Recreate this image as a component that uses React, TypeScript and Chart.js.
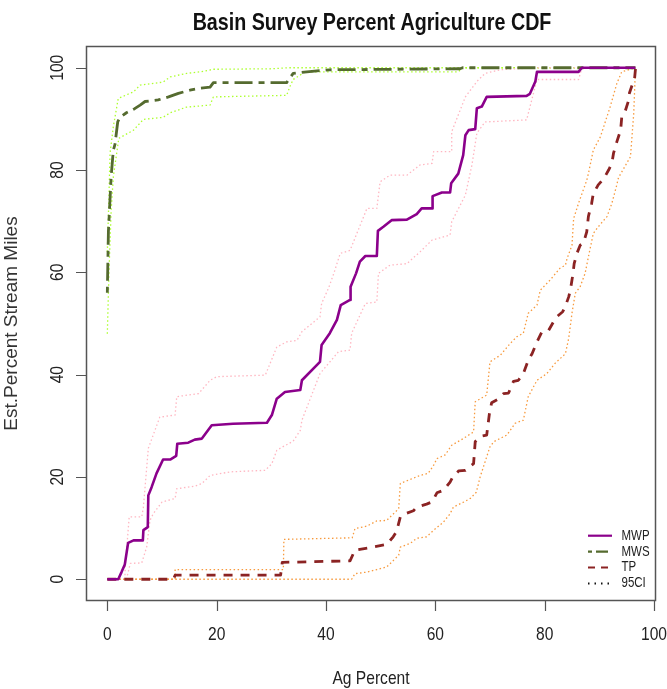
import React, { useEffect, useRef } from "react";
import { Chart, registerables } from "chart.js";

Chart.register(...registerables);

type P = [number, number];

const TITLE = "Basin Survey Percent Agriculture CDF";
const X_LABEL = "Ag Percent";
const Y_LABEL = "Est.Percent Stream Miles";
const X_TICKS = [0, 20, 40, 60, 80, 100];
const Y_TICKS = [0, 20, 40, 60, 80, 100];
const LEGEND_LABELS = ["MWP", "MWS", "TP", "95CI"];

const MWP: P[] = [[0,0],[2,0],[2.6,1.4],[3.2,2.9],[3.8,7.1],[4.8,7.6],[6.5,7.6],[6.6,9.6],[7.4,10.2],[7.5,16.4],[8.1,18],[9,20.7],[10.2,23.4],[11.5,23.4],[12.6,24.1],[12.8,26.5],[14.8,26.7],[16,27.3],[17.3,27.5],[19.1,30.1],[23,30.4],[29.2,30.6],[30.1,32.1],[31,35.3],[32.5,36.6],[35.3,37],[35.6,38.9],[38.9,42.5],[39.2,45.8],[40.7,48.1],[42,50.7],[42.7,53.6],[44.4,54.6],[44.5,57.2],[45.5,59.8],[46.2,62.1],[47.2,63.2],[49.3,63.2],[49.5,68.1],[50.5,68.9],[52,70.2],[54.8,70.3],[56.6,71.4],[57.5,72.5],[59.4,72.5],[59.5,74.9],[61.2,75.6],[62.7,75.6],[62.9,77.4],[64.2,79.3],[65.1,82.9],[65.5,86.8],[66.1,87.8],[67.3,88],[67.6,92.1],[68.5,92.4],[69.4,94.3],[76.7,94.5],[77.3,94.9],[78.3,97.3],[78.6,99.2],[86.2,99.2],[86.8,100],[96.6,100]];
const MWP_UPPER: P[] = [[3.2,0],[3.3,2.7],[4,12.2],[6.3,12.2],[6.6,14.1],[7.5,25.6],[9.6,31.7],[12.4,32.1],[12.7,35.7],[16.7,36.3],[18.8,38.9],[20,39.6],[28.9,39.9],[31,45.4],[32.8,46.4],[34.7,46.7],[35.6,48.4],[38.9,51.3],[39.2,53.9],[40.5,57],[41.5,60],[42.6,63.7],[44.4,64.3],[47.5,72.5],[49.3,72.5],[49.9,77.7],[51.7,79],[54.8,79],[57.2,81],[59.4,81.3],[59.7,83.6],[63,83.6],[63,87.5],[65.5,94.3],[67.6,97.3],[69.1,98.9],[71.9,99.6],[78,100],[96.6,100]];
const MWP_LOWER: P[] = [[3.5,0],[4.2,3.1],[6.3,3.2],[7.2,6.3],[7.8,11.5],[8.4,12.8],[10,15.1],[12.4,15.8],[12.7,17.7],[16,18.2],[17.3,18.7],[18.8,20.3],[22.5,21],[28.9,21.3],[30.1,22.6],[31,25.2],[31.6,25.6],[34,27],[35.3,29.1],[35.6,31.1],[38.9,40.2],[42.3,44.5],[44.4,44.8],[44.7,48.1],[47.2,53.9],[49.3,54.2],[49.6,59.8],[51.7,61.4],[54.8,61.7],[57.2,64],[59.4,66.3],[62.7,67.3],[63,69.9],[65.5,75.1],[66.7,81],[67.6,87.2],[69.1,89.4],[76.7,89.8],[78.6,97.7],[86.2,97.7],[86.8,99.9],[96.6,100]];

const MWS: P[] = [[0,56],[0.1,62],[0.2,68],[0.7,78.7],[1.1,83.9],[1.4,85],[1.9,89.4],[2.3,90.3],[3.5,91.2],[5,92],[6,92.7],[6.9,93.4],[9.3,93.7],[11.2,94.3],[13,95],[15.1,95.6],[17,96],[18.8,96.2],[19.4,97.1],[32.8,97.1],[34,98.9],[36.5,99.2],[40.7,99.6],[64.5,99.8],[65,100],[96.6,100]];
const MWS_UPPER: P[] = [[0,64],[0.3,75],[0.5,83.3],[1.1,88.5],[2,94],[4.8,95.3],[6,96.6],[10.2,97.2],[11.5,98.2],[14.5,98.9],[17,99.2],[19.4,99.7],[30,99.8],[33,100],[96.6,100]];
const MWS_LOWER: P[] = [[0,48],[0.3,60],[0.7,72],[1.1,78.7],[2.1,86.2],[4.8,87.8],[6.6,89.9],[10.2,90.3],[11.5,91.2],[14.5,92.3],[18.8,92.7],[19.4,94.3],[32.8,94.6],[33.4,96.3],[34,97.7],[36.2,99.2],[64.2,99.2],[65,100],[96.6,100]];

const TP: P[] = [[0,0],[12.1,0],[12.4,0.8],[31.7,0.8],[32,3.3],[44.4,3.6],[45.3,5.7],[48.1,6.2],[51.1,6.8],[52.3,8.3],[52.9,9.3],[53.6,12.2],[54.2,12.7],[56,13.4],[56.6,14.1],[58.4,14.7],[59.4,15.1],[60.3,16.9],[61.5,17.4],[62.7,19],[63.2,20],[64.3,21.2],[65.5,21.3],[67,22.6],[67.3,26.9],[68.5,28],[69.4,28.2],[69.9,32.4],[70.3,34.5],[71.3,35.1],[72.5,36.3],[73.4,36.4],[74.3,38.7],[75.2,38.9],[76.1,40.2],[77,42.8],[77.7,44.1],[78.6,46.4],[79.5,48.4],[80.7,48.6],[81.6,50.3],[82.2,51.3],[83.3,52.3],[83.8,53.4],[84.4,55.2],[84.7,56.5],[85,58.5],[85.2,59.9],[85.4,61.7],[85.9,63.7],[86.5,65.3],[87.1,65.7],[87.7,67.9],[88,70.9],[88.6,73.5],[88.9,75.4],[89.8,77.1],[90.8,78.3],[91.7,80],[92.3,81.3],[92.6,83.3],[93.2,85.5],[93.9,87.8],[94.1,90.3],[94.7,91.4],[95.3,93.4],[95.5,95],[96,96.6],[96.4,97.3],[96.6,99.6],[96.6,100]];
const TP_UPPER: P[] = [[0,0],[12.4,0],[12.4,1.9],[32.2,1.9],[32.3,7.8],[44.8,8.1],[45.3,9.9],[47.5,10.4],[49.3,11.4],[51.1,11.5],[53.3,13.8],[53.6,18.7],[54.2,19],[57.2,20.3],[58.7,20.7],[59.7,22.3],[60.3,23.6],[61.8,24.3],[63,26.2],[65.1,27.5],[67,28.8],[67.3,34.7],[69.4,36],[70,42.5],[71.9,43.8],[73.7,46.1],[74.9,47.4],[76.1,48.1],[77,52],[78.6,53.6],[79.2,56.5],[81,58.5],[82.8,60.8],[83.8,61.4],[84.1,62.7],[85,65.3],[85.3,70.5],[86.2,73.5],[87.7,78],[88,79.3],[88.9,83.9],[90.2,86.5],[92,92.4],[93.2,96.9],[94.1,99.2],[96.3,99.9],[96.6,100]];
const TP_LOWER: P[] = [[0,0],[44.7,0],[45.3,1.1],[47.5,1.4],[49.3,1.9],[51.1,2.4],[53.3,4.7],[53.6,6.3],[55.4,7],[56.6,8],[58.4,8.3],[59.7,9.6],[61.5,11.2],[62.7,12.8],[63.3,14.1],[65.2,15.1],[66.4,15.8],[67.5,17],[68.2,20],[70,25.9],[70.7,26.9],[73.1,28.2],[74.6,30.5],[76.1,31.1],[77,35.7],[78.6,38.9],[80.4,40.2],[81.9,42.2],[83.8,44.1],[84.4,47.1],[85,52],[85.6,55.9],[86.5,57.2],[87.4,59.8],[88,63],[88.9,67.6],[89.8,68.9],[91.4,70.9],[92.3,73.5],[93.2,77.1],[93.5,78.5],[95.7,82.6],[96.3,91.1],[96.6,99.6],[96.6,100]];

const C_MWP = "#8B008B";
const C_MWS = "#556B2F";
const C_TP = "#8B2323";
const C_MWP_CI = "#FFB6C1";
const C_MWS_CI = "#ADFF2F";
const C_TP_CI = "#F79A3E";

const DASH_MWS = [6, 6, 18, 6];
const DASH_TP = [9, 8];
const DASH_CI = [1.5, 2.5];

let narrowOK: boolean | null = null;
function checkNarrow(ctx: CanvasRenderingContext2D) {
  if (narrowOK !== null) return narrowOK;
  ctx.save();
  ctx.font = '40px "Liberation Sans Narrow", monospace';
  const a = ctx.measureText("MWPabcdef").width;
  ctx.font = "40px monospace";
  const b = ctx.measureText("MWPabcdef").width;
  ctx.restore();
  narrowOK = Math.abs(a - b) > 0.5;
  return narrowOK;
}

function drawText(
  ctx: CanvasRenderingContext2D,
  text: string,
  x: number,
  y: number,
  size: number,
  opts: { bold?: boolean; align?: CanvasTextAlign; color?: string; rotate?: boolean; narrow?: boolean; baseline?: CanvasTextBaseline } = {}
) {
  const narrow = opts.narrow !== false;
  const hasNarrow = checkNarrow(ctx);
  ctx.save();
  ctx.translate(x, y);
  if (opts.rotate) ctx.rotate(-Math.PI / 2);
  let fam = '"Liberation Sans", Arial, sans-serif';
  if (narrow) {
    if (hasNarrow) fam = '"Liberation Sans Narrow", "Arial Narrow", sans-serif';
    else ctx.scale(0.82, 1);
  }
  ctx.font = `${opts.bold ? "bold " : ""}${size}px ${fam}`;
  ctx.fillStyle = opts.color || "#222";
  ctx.textAlign = opts.align || "center";
  ctx.textBaseline = opts.baseline || "alphabetic";
  ctx.fillText(text, 0, 0);
  ctx.restore();
}

const decorPlugin = {
  id: "decor",
  afterDraw(chart: any) {
    const ctx: CanvasRenderingContext2D = chart.ctx;
    const xs = chart.scales.x;
    const ys = chart.scales.y;
    const ca = chart.chartArea;
    ctx.save();
    ctx.strokeStyle = "#555";
    ctx.lineWidth = 1.5;
    ctx.setLineDash([]);
    ctx.strokeRect(Math.round(ca.left) + 0.5, Math.round(ca.top) + 0.5, Math.round(ca.right - ca.left) - 1, Math.round(ca.bottom - ca.top) - 1);
    ctx.lineWidth = 1.2;
    ctx.beginPath();
    X_TICKS.forEach((v) => {
      const px = Math.round(xs.getPixelForValue(v)) + 0.5;
      ctx.moveTo(px, ca.bottom);
      ctx.lineTo(px, ca.bottom + 10);
    });
    Y_TICKS.forEach((v) => {
      const py = Math.round(ys.getPixelForValue(v)) + 0.5;
      ctx.moveTo(ca.left, py);
      ctx.lineTo(ca.left - 10, py);
    });
    ctx.stroke();
    X_TICKS.forEach((v) => {
      drawText(ctx, String(v), xs.getPixelForValue(v), ca.bottom + 39, 19, { color: "#222" });
    });
    Y_TICKS.forEach((v) => {
      drawText(ctx, String(v), ca.left - 22.7, ys.getPixelForValue(v), 19, { color: "#222", rotate: true });
    });
    const cx = (ca.left + ca.right) / 2;
    const cy = (ca.top + ca.bottom) / 2;
    drawText(ctx, TITLE, cx + 1, 29.5, 24, { bold: true, color: "#111" });
    drawText(ctx, X_LABEL, cx, 684, 19, { color: "#222" });
    drawText(ctx, Y_LABEL, 16.7, cy, 19, { color: "#333", rotate: true, narrow: false });

    const legColors = [C_MWP, C_MWS, C_TP, "#111"];
    const legDash = [[], [4, 4, 12, 4], [7, 6], [1.5, 5]];
    const legRows = [535.7, 551.7, 567.5, 583.5];
    LEGEND_LABELS.forEach((lab, i) => {
      const y = legRows[i];
      ctx.beginPath();
      ctx.strokeStyle = legColors[i];
      ctx.lineWidth = 2.2;
      ctx.setLineDash(legDash[i]);
      ctx.moveTo(588, y);
      ctx.lineTo(612, y);
      ctx.stroke();
      ctx.setLineDash([]);
      drawText(ctx, lab, 621.5, y, 14, { align: "left", baseline: "middle", color: "#222" });
    });
    ctx.restore();
  },
};

function ds(label: string, pts: P[], color: string, width: number, dash: number[], order: number) {
  return {
    label,
    data: pts.map(([x, y]) => ({ x, y })),
    showLine: true,
    borderColor: color,
    backgroundColor: color,
    borderWidth: width,
    borderDash: dash,
    pointRadius: 0,
    pointHoverRadius: 0,
    tension: 0,
    fill: false,
    order,
    borderCapStyle: "butt",
    borderJoinStyle: "round",
  };
}

export default function App() {
  const ref = useRef<HTMLCanvasElement | null>(null);
  useEffect(() => {
    if (!ref.current) return;
    const chart = new Chart(ref.current, {
      type: "scatter",
      data: {
        datasets: [
          ds("MWP", MWP, C_MWP, 2.6, [], 1),
          ds("MWS", MWS, C_MWS, 2.8, DASH_MWS, 1),
          ds("TP", TP, C_TP, 2.8, DASH_TP, 1),
          ds("MWP upper", MWP_UPPER, C_MWP_CI, 1.3, DASH_CI, 2),
          ds("MWP lower", MWP_LOWER, C_MWP_CI, 1.3, DASH_CI, 2),
          ds("MWS upper", MWS_UPPER, C_MWS_CI, 1.3, DASH_CI, 2),
          ds("MWS lower", MWS_LOWER, C_MWS_CI, 1.3, DASH_CI, 2),
          ds("TP upper", TP_UPPER, C_TP_CI, 1.3, DASH_CI, 2),
          ds("TP lower", TP_LOWER, C_TP_CI, 1.3, DASH_CI, 2),
        ] as any,
      },
      options: {
        animation: false,
        responsive: false,
        devicePixelRatio: 1,
        layout: { padding: { left: 86, right: 11, top: 46, bottom: 88 } },
        plugins: { legend: { display: false }, title: { display: false }, tooltip: { enabled: false } },
        events: [],
        scales: {
          x: { type: "linear", display: false, min: -3.9, max: 100.37 },
          y: { type: "linear", display: false, min: -4.25, max: 104.25 },
        },
      },
      plugins: [decorPlugin],
    } as any);
    return () => chart.destroy();
  }, []);
  return (
    <div style={{ position: "fixed", left: 0, top: 0, width: 667, height: 689, background: "#fff" }}>
      <canvas ref={ref} width={667} height={689} style={{ display: "block", width: 667, height: 689 }} />
    </div>
  );
}
